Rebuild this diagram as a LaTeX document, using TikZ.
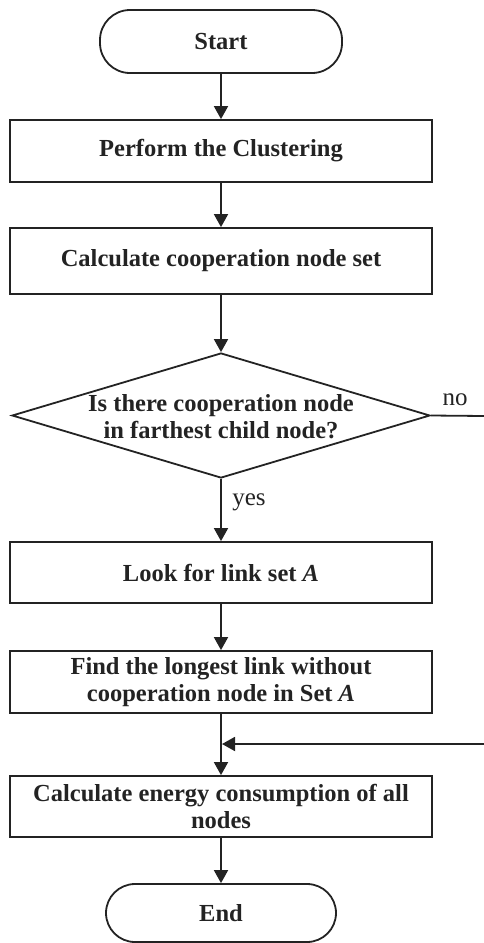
\documentclass[tikz,border=0pt]{standalone}
\usepackage{fontspec}
\setmainfont{Liberation Serif}
\usetikzlibrary{arrows.meta,shapes.geometric,positioning,calc}
\definecolor{ink}{RGB}{35,35,35}
\tikzset{
  base/.style={draw=ink, line width=1.8pt, text=ink, align=center, inner sep=0pt,
    font=\bfseries\fontsize{24.5}{26.5}\selectfont},
  procbox/.style={base, rectangle, minimum width=422pt},
  termbox/.style={base, rectangle, rounded corners=30pt},
  decbox/.style={draw=ink, line width=1.8pt, diamond, inner sep=0pt, minimum width=418pt, minimum height=125pt},
  flow/.style={draw=ink, line width=1.8pt, -{Triangle[width=14pt,length=13pt]}},
  plain/.style={draw=ink, line width=1.8pt},
  answer/.style={text=ink, font=\fontsize{25}{27}\selectfont, inner sep=0pt}
}
\begin{document}
\begin{tikzpicture}[x=1pt,y=-1pt]
  \useasboundingbox (0,0) rectangle (484,943);

  % process steps, top to bottom
  \node[termbox, minimum width=242pt, minimum height=63pt] (start) at (221,41.5) {Start};
  \node[procbox, minimum height=62pt] (cluster) at (221,151) {Perform the Clustering};
  \node[procbox, minimum height=66pt] (coopset) at (221,261) {Calculate cooperation node set};
  \node[decbox] (check) at (221,415.5) {};
  \node[base, draw=none] (checktext) at (221,416.5) {Is there cooperation node\\in farthest child node?};
  \node[procbox, minimum height=61pt] (linkset) at (221,572.5) {Look for link set \textit{A}};
  \node[procbox, minimum height=62pt] (longest) at (221,682) {Find the longest link without\\cooperation node in Set \textit{A}};
  \node[procbox, minimum height=61pt] (energy) at (221,806.5) {Calculate energy consumption of all\\nodes};
  \node[termbox, rounded corners=29pt, minimum width=230pt, minimum height=58pt] (finish) at (221,913) {End};

  % branch ends at the right border
  \coordinate (noend) at (484,416);
  \coordinate (backin) at (484,744);
  \coordinate (join) at (221,744);

  % connectors
  \draw[flow] (start) -- (cluster);
  \draw[flow] (cluster) -- (coopset);
  \draw[flow] (coopset) -- (check.north);
  \draw[flow] (check.south) -- (linkset);
  \draw[flow] (linkset) -- (longest);
  \draw[flow] (longest) -- (energy);
  \draw[flow] (energy) -- (finish);
  \draw[plain] (check.east) -- (noend);
  \draw[flow, shorten >=1pt] (backin) -- (join);

  % branch labels
  \node[answer] (yeslabel) at (249,502) {yes};
  \node[answer] (nolabel) at (455,400) {no};
\end{tikzpicture}
\end{document}
